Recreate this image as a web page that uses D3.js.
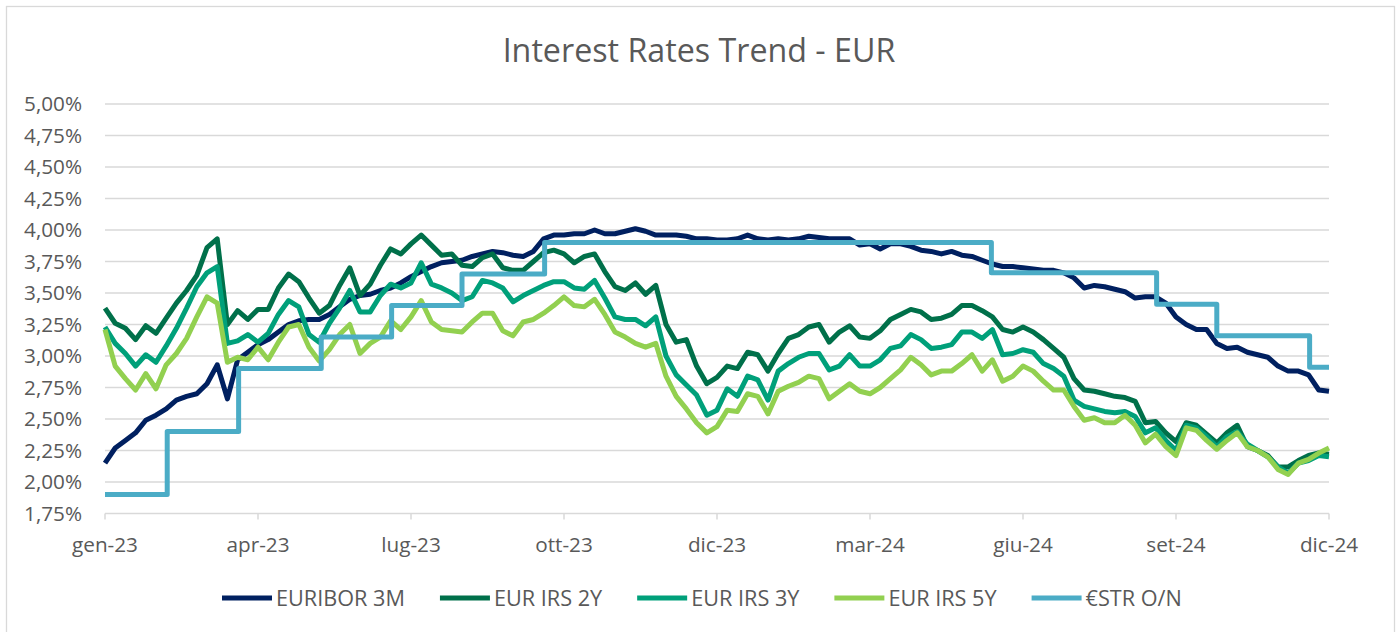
<!DOCTYPE html>
<html><head><meta charset="utf-8">
<script src="https://cdn.jsdelivr.net/npm/d3@7/dist/d3.min.js"></script>
<style>html,body{margin:0;padding:0;background:#fff;}svg{display:block;}</style>
</head><body>
<svg id="c" width="1398" height="632"></svg>
<script>
// ---------- DATA ----------
const chartTitle = "Interest Rates Trend - EUR";
const xTickLabels = ["gen-23","apr-23","lug-23","ott-23","dic-23","mar-24","giu-24","set-24","dic-24"];
const yTickValues = [1.75,2.00,2.25,2.50,2.75,3.00,3.25,3.50,3.75,4.00,4.25,4.50,4.75,5.00];
const seriesNames = ["EURIBOR 3M","EUR IRS 2Y","EUR IRS 3Y","EUR IRS 5Y","€STR O/N"];
// observations sampled at regular intervals (index 0..120)
const euribor3m = [2.15,2.27,2.33,2.39,2.49,2.53,2.58,2.65,2.68,2.70,2.78,2.93,2.66,2.97,3.03,3.09,3.13,3.19,3.25,3.28,3.29,
3.29,3.33,3.39,3.45,3.48,3.49,3.52,3.54,3.58,3.63,3.67,3.71,3.74,3.75,3.76,3.79,3.81,3.83,3.82,3.80,
3.79,3.83,3.93,3.96,3.96,3.97,3.97,4.00,3.97,3.97,3.99,4.01,3.99,3.96,3.96,3.96,3.95,3.93,3.93,3.92,
3.92,3.93,3.96,3.93,3.92,3.93,3.92,3.93,3.95,3.94,3.93,3.93,3.93,3.88,3.89,3.85,3.89,3.89,3.87,3.84,
3.83,3.81,3.83,3.80,3.79,3.76,3.73,3.71,3.71,3.70,3.69,3.68,3.68,3.66,3.62,3.54,3.56,3.55,3.53,3.51,
3.46,3.47,3.47,3.42,3.31,3.25,3.21,3.21,3.10,3.06,3.07,3.03,3.01,2.99,2.92,2.88,2.88,2.85,2.73,2.72];
const irs2y = [3.38,3.26,3.22,3.13,3.24,3.18,3.30,3.42,3.52,3.64,3.86,3.93,3.25,3.36,3.29,3.37,3.37,3.54,3.65,3.59,3.46,
3.34,3.40,3.56,3.70,3.48,3.57,3.72,3.85,3.81,3.89,3.96,3.88,3.80,3.81,3.72,3.71,3.78,3.81,3.70,3.68,
3.68,3.75,3.82,3.84,3.81,3.74,3.79,3.81,3.67,3.55,3.52,3.58,3.49,3.56,3.25,3.11,3.13,2.92,2.78,2.83,
2.92,2.90,3.03,3.01,2.88,3.02,3.14,3.17,3.23,3.25,3.11,3.19,3.24,3.15,3.14,3.20,3.29,3.33,3.37,3.35,
3.29,3.30,3.33,3.40,3.40,3.36,3.31,3.21,3.19,3.23,3.19,3.13,3.06,2.99,2.82,2.73,2.72,2.70,2.68,2.67,
2.64,2.47,2.48,2.39,2.32,2.47,2.45,2.38,2.31,2.39,2.45,2.28,2.25,2.21,2.12,2.12,2.17,2.21,2.23,2.22];
const irs3y = [3.23,3.10,3.02,2.92,3.01,2.95,3.08,3.22,3.38,3.55,3.66,3.71,3.10,3.12,3.17,3.11,3.18,3.33,3.44,3.39,3.17,
3.11,3.26,3.38,3.52,3.35,3.35,3.48,3.57,3.54,3.58,3.74,3.57,3.54,3.50,3.44,3.47,3.60,3.58,3.54,3.43,
3.48,3.52,3.56,3.59,3.59,3.54,3.53,3.60,3.46,3.31,3.29,3.29,3.24,3.31,3.00,2.85,2.77,2.69,2.53,2.57,
2.74,2.68,2.84,2.81,2.65,2.88,2.94,2.99,3.02,3.02,2.89,2.92,3.01,2.92,2.92,2.97,3.06,3.08,3.17,3.13,
3.06,3.07,3.09,3.19,3.19,3.14,3.21,3.01,3.02,3.05,3.03,2.94,2.90,2.84,2.65,2.60,2.58,2.56,2.55,2.56,
2.52,2.39,2.43,2.33,2.25,2.45,2.43,2.36,2.28,2.36,2.40,2.30,2.25,2.20,2.12,2.07,2.15,2.17,2.21,2.20];
const irs5y = [3.21,2.92,2.82,2.73,2.86,2.74,2.93,3.02,3.14,3.31,3.47,3.42,2.95,2.99,2.97,3.07,2.97,3.11,3.23,3.25,3.07,
2.96,3.05,3.17,3.25,3.02,3.10,3.15,3.28,3.21,3.31,3.44,3.27,3.21,3.20,3.19,3.27,3.34,3.34,3.20,3.16,
3.27,3.29,3.34,3.40,3.47,3.40,3.39,3.45,3.33,3.19,3.15,3.10,3.07,3.10,2.84,2.68,2.58,2.47,2.39,2.44,
2.57,2.56,2.70,2.68,2.54,2.72,2.76,2.79,2.84,2.82,2.66,2.72,2.78,2.72,2.70,2.75,2.82,2.89,2.99,2.93,
2.85,2.88,2.88,2.94,3.01,2.88,2.97,2.80,2.84,2.92,2.88,2.80,2.73,2.73,2.60,2.49,2.51,2.47,2.47,2.53,
2.45,2.31,2.38,2.28,2.21,2.43,2.41,2.33,2.26,2.33,2.39,2.28,2.25,2.20,2.10,2.06,2.15,2.18,2.23,2.27];
// €STR step changes: observation index where each level starts, and the level
const estrStart = [0,6.1,13.1,21.2,28.1,35.0,43.1,86.9,103.1,109.0,118.1];
const estrRate  = [1.90,2.40,2.90,3.15,3.40,3.65,3.90,3.66,3.41,3.16,2.91];
const lastIndex = 120;

// ---------- CHART ----------
const svg = d3.select("#c");
const FONT = "'Open Sans', sans-serif";
const TXT = "#595959", GRID = "#D9D9D9";
const colors = ["#002060","#00704A","#00A07A","#92D050","#4BACC6"];

const x = d3.scaleLinear().domain([0,lastIndex]).range([105,1329]);
const y = d3.scaleLinear().domain([1.75,5.00]).range([513.5,104]);

function fit(str, target){
  const t = svg.append("text").attr("font-family",FONT).attr("font-size",100).text(str);
  const w = t.node().getComputedTextLength(); t.remove();
  return 100*target/w;
}

svg.append("rect").attr("x",6.5).attr("y",6.5).attr("width",1388).attr("height",650)
  .attr("fill","#fff").attr("stroke",GRID).attr("stroke-width",1.3);

// title
svg.append("text").attr("x",699).attr("y",62).attr("text-anchor","middle")
  .attr("font-family",FONT).attr("font-size",fit(chartTitle,393)).attr("fill",TXT).text(chartTitle);

// gridlines
svg.append("g").selectAll("line").data(yTickValues).join("line")
  .attr("x1",x(0)).attr("x2",x(lastIndex)).attr("y1",d=>y(d)).attr("y2",d=>y(d))
  .attr("stroke",GRID).attr("stroke-width",1.5);

// y axis labels
const yFmt = d => d3.format(".2f")(d).replace(".",",")+"%";
const yFs = fit("5,00%",58);
svg.append("g").selectAll("text").data(yTickValues).join("text")
  .attr("x",82).attr("y",d=>y(d)).attr("dy","0.36em").attr("text-anchor","end")
  .attr("font-family",FONT).attr("font-size",yFs).attr("fill",TXT).text(yFmt);

// x axis ticks + labels
const xTickIdx = xTickLabels.map((d,i)=> i*lastIndex/(xTickLabels.length-1));
svg.append("g").selectAll("line").data(xTickIdx).join("line")
  .attr("x1",d=>x(d)).attr("x2",d=>x(d)).attr("y1",y(1.75)).attr("y2",y(1.75)+6)
  .attr("stroke",GRID).attr("stroke-width",1.5);
const xFs = fit("gen-23",66);
svg.append("g").selectAll("text").data(xTickLabels).join("text")
  .attr("x",(d,i)=>x(xTickIdx[i])).attr("y",552).attr("text-anchor","middle")
  .attr("font-family",FONT).attr("font-size",xFs).attr("fill",TXT).text(d=>d);

// lines
const line = d3.line().x((d,i)=>x(i)).y(d=>y(d));
const series = [euribor3m, irs2y, irs3y, irs5y];
const gLines = svg.append("g").attr("fill","none").attr("stroke-width",5)
  .attr("stroke-linejoin","round").attr("stroke-linecap","butt");
series.forEach((s,i)=>{
  gLines.append("path").attr("d",line(s)).attr("stroke",colors[i]);
});
const estrPts = estrStart.map((s,i)=>[s,estrRate[i]]);
estrPts.push([lastIndex, estrRate[estrRate.length-1]]);
const stepLine = d3.line().x(d=>x(d[0])).y(d=>y(d[1])).curve(d3.curveStepAfter);
gLines.append("path").attr("d",stepLine(estrPts)).attr("stroke",colors[4]);

// legend
const legFs = fit("EURIBOR 3M",129);
const legY = 598;
const leg = svg.append("g");
let cx = 0;
seriesNames.forEach((n,i)=>{
  const g = leg.append("g");
  g.append("line").attr("x1",cx).attr("x2",cx+50).attr("y1",legY).attr("y2",legY)
    .attr("stroke",colors[i]).attr("stroke-width",5);
  const t = g.append("text").attr("x",cx+54).attr("y",legY).attr("dy","0.36em")
    .attr("font-family",FONT).attr("font-size",legFs).attr("fill",TXT).text(n);
  const w = t.node().getComputedTextLength();
  cx = cx + 54 + w + 35;
});
leg.attr("transform",`translate(${222},0)`);
</script>
</body></html>
